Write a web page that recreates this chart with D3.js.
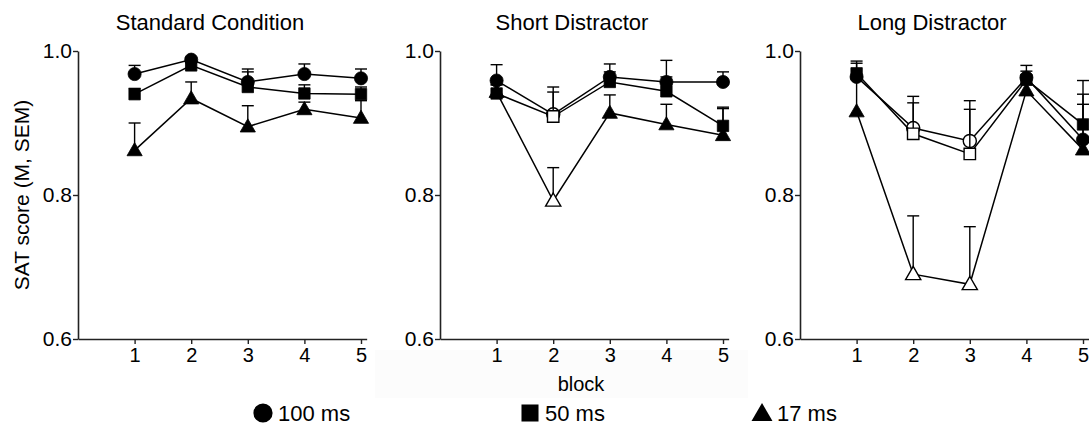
<!DOCTYPE html>
<html>
<head>
<meta charset="utf-8">
<script src="https://cdn.jsdelivr.net/npm/d3@7"></script>
<style>
  html, body { margin: 0; padding: 0; background: #fff; }
  svg { display: block; font-family: Arial, "Liberation Sans", sans-serif; }
</style>
</head>
<body>
<svg id="chart" width="1089" height="439"></svg>
<script>
// Blocks and labels
const blocks = [1, 2, 3, 4, 5];
const panelTitles = ["Standard Condition", "Short Distractor", "Long Distractor"];
const yTicks = [0.6, 0.8, 1.0];
const durations = ["100 ms", "50 ms", "17 ms"];
const shapes = ["circle", "square", "triangle"];

// Standard condition: mean and SEM per block
const std100 = [0.968, 0.988, 0.957, 0.968, 0.962];
const std100Sem = [0.012, 0.003, 0.018, 0.014, 0.013];
const std50 = [0.940, 0.980, 0.950, 0.941, 0.940];
const std50Sem = [0.008, 0.004, 0.021, 0.012, 0.010];
const std17 = [0.862, 0.934, 0.895, 0.919, 0.907];
const std17Sem = [0.038, 0.023, 0.029, 0.010, 0.024];

// Short distractor
const short100 = [0.959, 0.912, 0.964, 0.957, 0.957];
const short100Sem = [0.022, 0.038, 0.018, 0.030, 0.014];
const short50 = [0.941, 0.909, 0.957, 0.944, 0.896];
const short50Sem = [0.012, 0.034, 0.014, 0.020, 0.026];
const short17 = [0.943, 0.792, 0.914, 0.898, 0.883];
const short17Sem = [0.010, 0.046, 0.025, 0.028, 0.037];

// Long distractor
const long100 = [0.964, 0.893, 0.875, 0.963, 0.877];
const long100Sem = [0.019, 0.044, 0.056, 0.017, 0.063];
const long50 = [0.969, 0.885, 0.857, 0.960, 0.898];
const long50Sem = [0.017, 0.043, 0.062, 0.012, 0.061];
const long17 = [0.916, 0.690, 0.676, 0.945, 0.863];
const long17Sem = [0.045, 0.081, 0.080, 0.020, 0.063];

// Blocks drawn with open symbols (distractor present)
const openStandard = [];
const openShort = [2];
const openLong = [2, 3];

const panels = [
  { title: panelTitles[0], open: openStandard,
    series: [[std100, std100Sem], [std50, std50Sem], [std17, std17Sem]] },
  { title: panelTitles[1], open: openShort,
    series: [[short100, short100Sem], [short50, short50Sem], [short17, short17Sem]] },
  { title: panelTitles[2], open: openLong,
    series: [[long100, long100Sem], [long50, long50Sem], [long17, long17Sem]] }
];

const svg = d3.select("#chart");
const panelLeft = [78, 440, 800];
const unit = 56.6;
const xMax = 5.1;
const y = d3.scaleLinear().domain([0.6, 1.0]).range([339, 51]);

const ink = "#000";
const axisInk = "#222";
const font = "Arial, 'Liberation Sans', sans-serif";

// faint backdrop behind the shared x label
svg.append("rect").attr("x", 375).attr("y", 350).attr("width", 373).attr("height", 48)
  .attr("fill", "#fcfcfc");

function symbolPath(shape, size) {
  const t = shape === "circle" ? d3.symbolCircle : shape === "square" ? d3.symbolSquare : d3.symbolTriangle;
  return d3.symbol().type(t).size(size)();
}
const symbolSizes = { circle: 135, square: 130, triangle: 100 };

// drawing order: 17 ms underneath, then 100 ms, then 50 ms
const drawOrder = [2, 0, 1];

panels.forEach((p, pi) => {
  const x0 = panelLeft[pi];
  const x = d3.scaleLinear().domain([0, xMax]).range([x0, x0 + xMax * unit]);
  const g = svg.append("g");

  // title
  g.append("text").attr("x", x0 + 132).attr("y", 30).attr("text-anchor", "middle")
    .attr("font-size", 22).attr("fill", ink).text(p.title);

  // y axis
  const yAxis = g.append("g").attr("transform", `translate(${x0},0)`)
    .call(d3.axisLeft(y).tickValues(yTicks).tickFormat(d3.format(".1f")).tickSize(5).tickSizeOuter(0));
  yAxis.select(".domain").attr("stroke", axisInk).attr("stroke-width", 1.6);
  yAxis.selectAll(".tick line").attr("stroke", axisInk).attr("stroke-width", 1.4);
  yAxis.selectAll(".tick text").attr("font-size", 21).attr("fill", ink).attr("x", -6)
    .attr("font-family", font);

  // x axis
  const xAxis = g.append("g").attr("transform", `translate(0,${y(0.6)})`)
    .call(d3.axisBottom(x).tickValues(blocks).tickFormat(d3.format("d")).tickSize(5).tickSizeOuter(0));
  xAxis.select(".domain").attr("stroke", axisInk).attr("stroke-width", 1.6);
  xAxis.selectAll(".tick line").attr("stroke", axisInk).attr("stroke-width", 1.4);
  xAxis.selectAll(".tick text").attr("font-size", 20).attr("fill", ink).attr("y", 9)
    .attr("font-family", font);

  const line = d3.line().x((d, i) => x(blocks[i])).y(d => y(d));

  drawOrder.forEach(si => {
    const [vals, sems] = p.series[si];
    const sg = g.append("g");
    // upward SEM bars
    vals.forEach((v, i) => {
      const cx = x(blocks[i]);
      const top = y(v + sems[i]);
      sg.append("line").attr("x1", cx).attr("x2", cx).attr("y1", y(v)).attr("y2", top)
        .attr("stroke", ink).attr("stroke-width", 1.4);
      sg.append("line").attr("x1", cx - 6).attr("x2", cx + 6).attr("y1", top).attr("y2", top)
        .attr("stroke", ink).attr("stroke-width", 1.4);
    });
    sg.append("path").datum(vals).attr("d", line).attr("fill", "none")
      .attr("stroke", ink).attr("stroke-width", 1.5);
    vals.forEach((v, i) => {
      const isOpen = p.open.includes(blocks[i]);
      const dy = shapes[si] === "triangle" ? 1 : 0;
      sg.append("path").attr("d", symbolPath(shapes[si], symbolSizes[shapes[si]]))
        .attr("transform", `translate(${x(blocks[i])},${y(v) + dy})`)
        .attr("fill", isOpen ? "#fff" : ink)
        .attr("stroke", ink).attr("stroke-width", isOpen ? 1.4 : 0.8);
    });
  });
});

// shared axis labels
svg.append("text").attr("transform", "translate(29,195) rotate(-90)")
  .attr("text-anchor", "middle").attr("font-size", 21).attr("fill", ink)
  .text("SAT score (M, SEM)");
svg.append("text").attr("x", 581).attr("y", 391).attr("text-anchor", "middle")
  .attr("font-size", 20).attr("fill", ink).text("block");

// legend
const legendX = [263, 530, 762];
const legend = svg.append("g");
durations.forEach((lbl, i) => {
  const cx = legendX[i];
  legend.append("path").attr("d", symbolPath(shapes[i], i === 2 ? 190 : 290))
    .attr("transform", `translate(${cx},${i === 2 ? 415 : 413})`).attr("fill", ink);
  legend.append("text").attr("x", cx + 15).attr("y", 421).attr("font-size", 22)
    .attr("fill", ink).text(lbl);
});
</script>
</body>
</html>
